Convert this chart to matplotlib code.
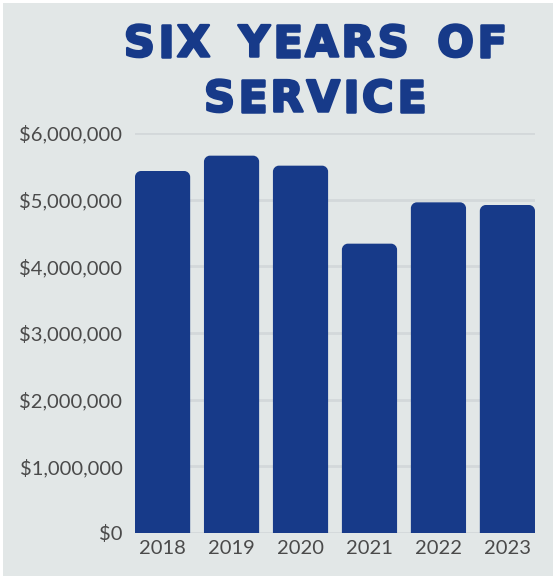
import matplotlib
matplotlib.use("Agg")
import matplotlib.pyplot as plt
from matplotlib.path import Path
from matplotlib.patches import PathPatch, Rectangle
from matplotlib.ticker import FuncFormatter, MultipleLocator
import matplotlib.patheffects as pe

years = ["2018", "2019", "2020", "2021", "2022", "2023"]
values = [5430000, 5660000, 5510000, 4340000, 4960000, 4920000]
title_lines = ["SIX YEARS OF", "SERVICE"]

BG = "#e2e7e7"
NAVY = "#173a89"
GRID = "#d3d8da"
TICK = "#4a4a4a"

W, H = 553, 576
fig = plt.figure(figsize=(W / 100, H / 100), dpi=100)
fig.patch.set_facecolor("white")
fig.patches.append(Rectangle((3 / W, 0), 1 - 3 / W, 1 - 3 / H, transform=fig.transFigure,
                             facecolor=BG, edgecolor="none", zorder=-10))

ax = fig.add_axes([135 / W, (H - 533) / H, 400 / W, 400 / H])
ax.set_facecolor(BG)
ax.patch.set_alpha(0)
for s in ax.spines.values():
    s.set_visible(False)

x = list(range(len(years)))
bars = ax.bar(x, values, width=0.8, color=NAVY)
ax.set_xlim(-0.4, len(years) - 0.6)
ax.set_ylim(0, 6000000)
ax.yaxis.set_major_locator(MultipleLocator(1000000))
ax.yaxis.set_major_formatter(FuncFormatter(lambda v, p: "${:,.0f}".format(v)))
ax.set_xticks(x)
ax.set_xticklabels(years)
ax.grid(axis="y", color=GRID, linewidth=2)
ax.set_axisbelow(True)
ax.tick_params(axis="both", length=0, labelsize=14.5, labelcolor=TICK)
ax.tick_params(axis="y", pad=9)
ax.tick_params(axis="x", pad=5)
for lab in ax.get_xticklabels() + ax.get_yticklabels():
    lab.set_fontfamily("Lato")

# rounded top corners
fig.canvas.draw()
inv = ax.transData.inverted()
p0 = inv.transform((0, 0))
p1 = inv.transform((1, 1))
dx_px = p1[0] - p0[0]
dy_px = p1[1] - p0[1]
r = 6
rx, ry = r * dx_px, r * dy_px
k = 0.5523
for b in bars:
    x0, y0 = b.get_x(), b.get_y()
    w, h = b.get_width(), b.get_height()
    x1, y1 = x0 + w, y0 + h
    verts = [
        (x0, y0), (x0, y1 - ry),
        (x0, y1 - ry + k * ry), (x0 + rx - k * rx, y1), (x0 + rx, y1),
        (x1 - rx, y1),
        (x1 - rx + k * rx, y1), (x1, y1 - ry + k * ry), (x1, y1 - ry),
        (x1, y0), (x0, y0),
    ]
    codes = [Path.MOVETO, Path.LINETO,
             Path.CURVE4, Path.CURVE4, Path.CURVE4,
             Path.LINETO,
             Path.CURVE4, Path.CURVE4, Path.CURVE4,
             Path.LINETO, Path.CLOSEPOLY]
    ax.add_patch(PathPatch(Path(verts, codes), facecolor=NAVY, edgecolor="none", zorder=3))
    b.set_visible(False)

# title with letter tracking
renderer = fig.canvas.get_renderer()
fp = dict(fontfamily="DejaVu Sans", fontweight="bold", fontsize=31, color=NAVY,
          path_effects=[pe.withStroke(linewidth=1.8, foreground=NAVY)])
tracking = 3.0  # px
centers_x = 315
baselines = [H - 56.5, H - 111.5]
for line, base in zip(title_lines, baselines):
    widths = []
    for ch in line:
        t = fig.text(0, 0, ch if ch != " " else "I", **fp)
        bb = t.get_window_extent(renderer)
        widths.append(bb.width if ch != " " else bb.width * 1.4)
        t.remove()
    total = sum(widths) + tracking * (len(line) - 1)
    cx = centers_x - total / 2
    for ch, wdt in zip(line, widths):
        if ch != " ":
            fig.text(cx / W, base / H, ch, ha="left", va="baseline", **fp)
        cx += wdt + tracking

fig.savefig("out.png", dpi=100, facecolor=fig.get_facecolor())
